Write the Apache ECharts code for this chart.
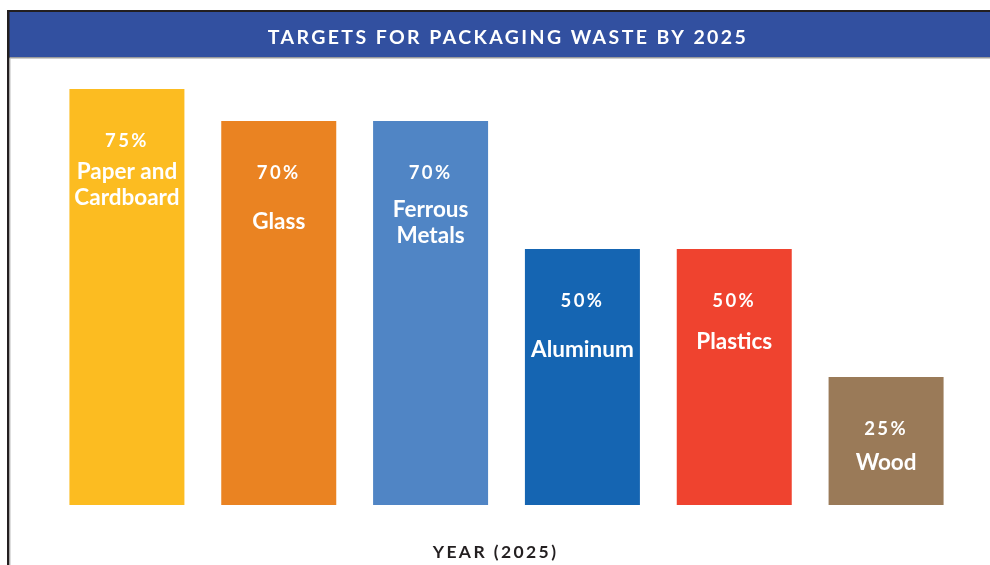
<!DOCTYPE html>
<html>
<head>
<meta charset="utf-8">
<script src="https://cdn.jsdelivr.net/npm/echarts@6/dist/echarts.min.js"></script>
<style>
html,body{margin:0;padding:0;background:#fff}
#main{width:990px;height:565px}
</style>
</head>
<body>
<div id="main"></div>
<script>
// data
var materials = ['Paper and\nCardboard', 'Glass', 'Ferrous\nMetals', 'Aluminum', 'Plastics', 'Wood']
var targets = [75, 70, 70, 50, 50, 25]           // percent printed on each bar
var barLevels = [81.25, 75, 75, 50, 50, 25]      // bar heights as drawn (not to scale in the original)
var colors = ['#fcbc21', '#ea8322', '#5085c5', '#1565b2', '#ef432f', '#9a7a58']
var titleText = 'TARGETS FOR PACKAGING WASTE BY 2025'
var axisTitle = 'YEAR (2025)'

// layout: offset of the name label below each bar top
var nameDy = [96, 101, 102, 101, 93, 86]

var chart = echarts.init(document.getElementById('main'))

var font = 'Lato, "Noto Sans", sans-serif'

chart.setOption({
	animation: false,
	backgroundColor: '#fff',
	title: {
		text: titleText,
		left: 503,
		top: 23,
		textAlign: 'center',
		zlevel: 1,
		textStyle: {color: '#fff', fontFamily: font, fontWeight: 'bold', fontSize: 19.5}
	},
	graphic: [
		{type: 'rect', shape: {x: 7, y: 10, width: 990, height: 2}, style: {fill: '#231f20'}, z: 1},
		{type: 'rect', shape: {x: 7, y: 12, width: 990, height: 45}, style: {fill: '#3250a0'}, z: 1},
		{type: 'rect', shape: {x: 9, y: 57, width: 990, height: 1.5}, style: {fill: '#9c9c9c'}, z: 1},
		{type: 'rect', shape: {x: 7, y: 10, width: 2.5, height: 560}, style: {fill: '#231f20'}, z: 2},
		{type: 'rect', shape: {x: 9.5, y: 58, width: 1, height: 510}, style: {fill: '#bdbdbd'}, z: 2}
	],
	grid: {left: 51, right: 28, top: 57, bottom: 60, outerBoundsMode: 'none'},
	xAxis: {
		type: 'category',
		data: materials,
		zlevel: 1,
		axisLine: {show: false},
		axisTick: {show: false},
		axisLabel: {show: false},
		name: axisTitle,
		nameLocation: 'middle',
		nameGap: 38,
		nameTextStyle: {color: '#231f20', fontFamily: font, fontWeight: 'bold', fontSize: 17.5, padding: [0, 0, 0, -22]}
	},
	yAxis: {
		type: 'value',
		min: 0,
		max: 87.5,
		show: false,
		splitLine: {show: false}
	},
	series: [
		{
			type: 'bar',
			barWidth: 115,
			silent: true,
			data: barLevels.map(function(v, i){
				return {
					value: v,
					itemStyle: {color: colors[i]},
					label: {position: ['50%', nameDy[i]]}
				}
			}),
			label: {
				show: true,
				align: 'center',
				verticalAlign: 'middle',
				formatter: function(p){ return materials[p.dataIndex] },
				color: '#fff',
				fontFamily: font,
				fontWeight: 'bold',
				fontSize: 22.5,
				lineHeight: 26
			}
		},
		{
			type: 'bar',
			barWidth: 115,
			barGap: '-100%',
			silent: true,
			zlevel: 1,
			itemStyle: {color: 'rgba(0,0,0,0)'},
			data: barLevels,
			label: {
				show: true,
				position: ['50%', 52],
				align: 'center',
				verticalAlign: 'middle',
				formatter: function(p){ return targets[p.dataIndex] + '%' },
				color: '#fff',
				fontFamily: font,
				fontWeight: 'bold',
				fontSize: 18.5
			}
		}
	]
})

// the original uses wide letter spacing on the caps text (title, percents, axis name);
// those sit on zlevel 1 so that layer alone gets the spacing
;(function(){
	var painter = chart.getZr().painter
	var layer = painter.getLayer && painter.getLayer(1)
	if(layer && layer.ctx && 'letterSpacing' in layer.ctx){
		layer.ctx.letterSpacing = '2.4px'
		painter.refresh(true)
	}
})()
</script>
</body>
</html>
